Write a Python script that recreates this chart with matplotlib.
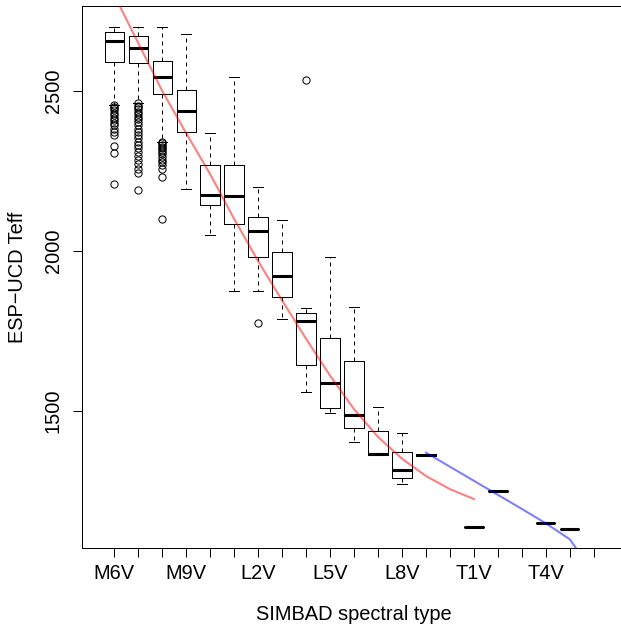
import matplotlib
matplotlib.use("Agg")
import matplotlib.pyplot as plt

plt.rcParams['font.family'] = ['Liberation Sans', 'DejaVu Sans']

# spectral types on the x axis (0-based positions)
spectral_types = ['M6V', 'M7V', 'M8V', 'M9V', 'L0V', 'L1V', 'L2V', 'L3V',
                  'L4V', 'L5V', 'L6V', 'L7V', 'L8V', 'L9V', 'T0V', 'T1V',
                  'T2V', 'T3V', 'T4V', 'T5V', 'T6V']

# box statistics per populated spectral type (Teff in K)
box_pos = [0, 1, 2, 3, 4, 5, 6, 7, 8, 9, 10, 11, 12, 13, 15, 16, 18, 19]
box_whishi = [2700, 2700, 2700, 2677, 2369, 2544, 2199, 2096, 1820, 1981,
              1823, 1513, 1431, 1362, 1137, 1250, 1148, 1131]
box_q3 = [2684, 2672, 2592, 2501, 2267, 2269, 2104, 1997, 1807, 1728,
          1654, 1438, 1372, 1364, 1137, 1250, 1148, 1131]
box_med = [2655, 2634, 2544, 2437, 2174, 2170, 2062, 1921, 1780, 1586,
           1486, 1365, 1315, 1362, 1137, 1250, 1148, 1131]
box_q1 = [2591, 2586, 2489, 2371, 2142, 2083, 1981, 1854, 1643, 1509,
          1445, 1362, 1291, 1360, 1137, 1250, 1148, 1131]
box_whislo = [2455, 2462, 2341, 2193, 2048, 1873, 1873, 1787, 1560, 1492,
              1403, 1362, 1271, 1360, 1137, 1250, 1148, 1131]

# outliers
fliers_m6 = [2455, 2450, 2445, 2440, 2431, 2424, 2416, 2408, 2400, 2393,
             2382, 2372, 2362, 2327, 2304, 2208]
fliers_m7 = [2461, 2454, 2448, 2442, 2434, 2427, 2419, 2411, 2402, 2393,
             2382, 2372, 2362, 2351, 2341, 2330, 2320, 2309, 2296, 2283,
             2271, 2257, 2242, 2190]
fliers_m8 = [2341, 2336, 2330, 2325, 2320, 2314, 2309, 2302, 2293, 2285,
             2276, 2267, 2257, 2231, 2098]
fliers_l2 = [1775]
fliers_l4 = [2533]

# relations overplotted
red_x = list(range(0, 16))
red_teff = [2800, 2650, 2500, 2368, 2240, 2100, 1968, 1845, 1725, 1610,
            1505, 1418, 1350, 1296, 1255, 1224]
blue_x = [13, 14, 15, 16, 17, 18, 19, 20]
blue_teff = [1369, 1325, 1281, 1237, 1193, 1148, 1098, 990]

fliers = {0: fliers_m6, 1: fliers_m7, 2: fliers_m8, 6: fliers_l2, 8: fliers_l4}

stats = []
for i, p in enumerate(box_pos):
    stats.append({
        'med': box_med[i], 'q1': box_q1[i], 'q3': box_q3[i],
        'whislo': box_whislo[i], 'whishi': box_whishi[i],
        'fliers': fliers.get(p, []),
    })

fig = plt.figure(figsize=(6.21, 6.26), dpi=100)
ax = fig.add_axes([82 / 621, 78 / 626, 544 / 621, 542 / 626])

lw = 0.72
ax.bxp(stats, positions=box_pos, widths=0.8, capwidths=0.4,
       manage_ticks=False,
       boxprops=dict(color='black', linewidth=lw),
       whiskerprops=dict(color='black', linewidth=lw, linestyle=(0, (4, 4))),
       capprops=dict(color='black', linewidth=lw),
       medianprops=dict(color='black', linewidth=2.2, solid_capstyle='butt'),
       flierprops=dict(marker='o', markerfacecolor='none',
                       markeredgecolor='black', markersize=5.2,
                       markeredgewidth=lw))

ax.plot(red_x, red_teff, color=(1, 0, 0, 0.5), linewidth=1.5, zorder=5)
ax.plot(blue_x, blue_teff, color=(0, 0, 1, 0.5), linewidth=1.5, zorder=5)

ax.set_xlim(-1.34, 21.34)
ax.set_ylim(1071, 2765)

ax.set_xticks(range(len(spectral_types)))
ax.set_xticklabels([s if i % 3 == 0 else '' for i, s in enumerate(spectral_types)])
ax.set_yticks([1500, 2000, 2500])
ax.set_yticklabels(['1500', '2000', '2500'], rotation=90, va='center')

for s in ax.spines.values():
    s.set_linewidth(lw)
ax.tick_params(length=6.7, width=lw, labelsize=14.4, pad=5)
ax.tick_params(axis='y', pad=7)

ax.set_xlabel('SIMBAD spectral type', fontsize=14.4, labelpad=16)
ax.set_ylabel('ESP\u2212UCD Teff', fontsize=14.4, labelpad=12)

fig.savefig('out.png', dpi=100)
